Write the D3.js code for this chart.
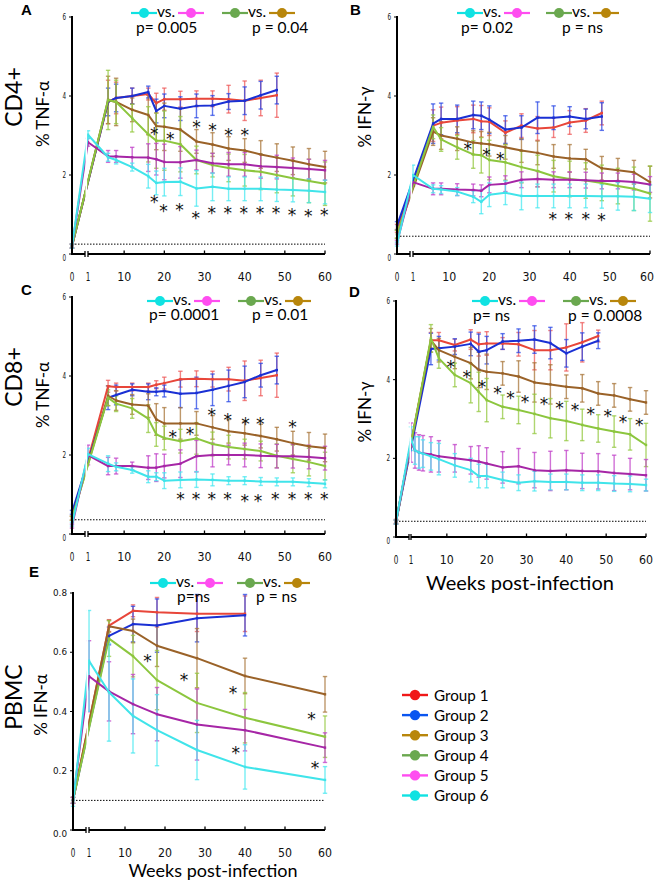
<!DOCTYPE html>
<html><head><meta charset="utf-8">
<script src="https://cdnjs.cloudflare.com/ajax/libs/d3/7.8.5/d3.min.js"></script>
<style>body{margin:0;background:#fff}svg{display:block}</style>
</head><body>
<svg id="c" width="655" height="885"></svg>
<script>
// ---------- DATA ----------
const groupNames = ["Group 1","Group 2","Group 3","Group 4","Group 5","Group 6"];
const xTickVals = [0,1,10,20,30,40,50,60];
const yTicks6 = [0,2,4,6];
const yTicksE = [0,0.2,0.4,0.6,0.8];

// time points (weeks)
const wk12 = [0,6,8,12,16,18,20,24,28,32,36,40,44,48];
const wk34 = [0,6,8,12,16,18,20,24,28,32,36,40,44,48,52,56,60];
const wk56 = [0,1,6,8,12,16,18,20,24,28,32,36,40,44,48,52,56,60];
const wkD56 = [0,1,2,3,4,6,8,12,16,18,20,24,28,32,36,40,44,48,52,56,60];
const wkE12 = [0,6,12,18,28,40];
const wkE34 = [0,6,12,18,28,40,60];
const wkE56 = [0,1,6,12,18,28,40,60];

// Panel A: CD4+ % TNF-a
const A_g1 = [0.2,3.85,3.95,4.0,4.05,3.82,3.92,3.92,3.93,3.93,3.92,3.88,3.95,4.02];
const A_g1e = [0.05,0.55,0.4,0.2,0.15,0.25,0.28,0.2,0.2,0.2,0.35,0.5,0.45,0.56];
const A_g2 = [0.2,3.85,3.95,4.0,4.1,3.62,3.75,3.68,3.75,3.76,3.86,3.88,4.02,4.15];
const A_g2e = [0.05,0.35,0.35,0.2,0.15,0.3,0.3,0.3,0.3,0.25,0.2,0.35,0.35,0.35];
const A_g3 = [0.2,3.9,3.85,3.65,3.52,3.24,3.22,3.15,2.85,2.77,2.67,2.62,2.52,2.44,2.36,2.27,2.2];
const A_g3e = [0.05,0.6,0.6,0.3,0.5,0.6,0.6,0.55,0.3,0.3,0.3,0.3,0.35,0.35,0.35,0.4,0.4];
const A_g4 = [0.2,3.9,3.85,3.44,3.03,2.87,2.87,2.78,2.38,2.25,2.18,2.12,2.08,2.0,1.92,1.85,1.78];
const A_g4e = [0.05,0.75,0.55,0.35,0.7,0.7,0.75,0.7,0.35,0.3,0.35,0.4,0.45,0.45,0.45,0.55,0.55];
const A_g5 = [0.2,2.83,2.47,2.47,2.45,2.44,2.4,2.33,2.32,2.38,2.3,2.27,2.27,2.22,2.2,2.18,2.15,2.12];
const A_g5e = [0.05,0.1,0.15,0.15,0.25,0.35,0.4,0.45,0.4,0.25,0.25,0.3,0.3,0.3,0.3,0.25,0.25,0.25];
const A_g6 = [0.2,3.02,2.45,2.38,2.2,1.97,1.8,1.82,1.83,1.66,1.7,1.65,1.65,1.65,1.63,1.62,1.6,1.57];
const A_g6e = [0.05,0.1,0.1,0.1,0.1,0.3,0.3,0.35,0.35,0.45,0.35,0.3,0.3,0.3,0.3,0.3,0.3,0.3];
const A_starWk = [17.5,21.5,28,32,36,40, 17.5,19.8,23.8,27.8,31.8,35.8,39.8,43.8,47.8,51.8,55.8,59.8];
const A_starVal = [3.12,2.98,3.3,3.22,3.1,3.1, 1.38,1.16,1.2,1.0,1.12,1.12,1.12,1.12,1.12,1.07,1.05,1.07];

// Panel B: CD4+ % IFN-g
const B_g1 = [0.65,3.25,3.32,3.38,3.42,3.36,3.35,3.07,3.25,3.18,3.2,3.33,3.38,3.57];
const B_g1e = [0.1,0.4,0.4,0.35,0.35,0.4,0.35,0.3,0.3,0.3,0.25,0.3,0.3,0.3];
const B_g2 = [0.72,3.3,3.42,3.42,3.52,3.5,3.4,3.15,3.2,3.45,3.45,3.48,3.42,3.48];
const B_g2e = [0.1,0.5,0.4,0.35,0.35,0.35,0.35,0.35,0.3,0.4,0.3,0.25,0.25,0.35];
const B_g3 = [0.5,3.1,3.0,2.92,2.82,2.8,2.78,2.7,2.62,2.56,2.47,2.42,2.4,2.17,2.12,2.07,1.82];
const B_g3e = [0.1,0.35,0.35,0.3,0.3,0.3,0.3,0.3,0.3,0.3,0.3,0.35,0.25,0.3,0.3,0.3,0.4];
const B_g4 = [0.5,3.22,2.9,2.7,2.52,2.5,2.38,2.32,2.2,2.1,1.97,1.9,1.86,1.8,1.72,1.65,1.53];
const B_g4e = [0.1,0.3,0.3,0.3,0.35,0.45,0.5,0.45,0.4,0.4,0.4,0.45,0.45,0.45,0.45,0.55,0.7];
const B_g5 = [0.3,1.82,1.65,1.65,1.63,1.62,1.6,1.75,1.78,1.88,1.9,1.88,1.88,1.87,1.85,1.85,1.82,1.76];
const B_g5e = [0.05,0.1,0.15,0.15,0.15,0.15,0.15,0.2,0.2,0.2,0.2,0.2,0.2,0.2,0.2,0.2,0.2,0.2];
const B_g6 = [0.25,2.0,1.65,1.63,1.58,1.45,1.32,1.5,1.55,1.47,1.47,1.47,1.47,1.47,1.46,1.46,1.45,1.4];
const B_g6e = [0.05,0.25,0.1,0.1,0.1,0.15,0.3,0.3,0.3,0.35,0.3,0.3,0.3,0.3,0.3,0.35,0.35,0.35];
const B_starWk = [14.6,19.3,22.7, 35.8,39.8,44,47.9];
const B_starVal = [2.74,2.57,2.49, 0.95,0.95,0.95,0.93];

// Panel C: CD8+ % TNF-a
const C_g1 = [0.4,3.74,3.72,3.72,3.72,3.78,3.82,3.92,3.93,3.92,3.92,3.88,3.95,4.02];
const C_g1e = [0.05,0.15,0.1,0.1,0.1,0.1,0.15,0.2,0.2,0.2,0.3,0.5,0.45,0.56];
const C_g2 = [0.55,3.45,3.52,3.65,3.6,3.6,3.62,3.55,3.57,3.65,3.75,3.85,4.02,4.15];
const C_g2e = [0.05,0.3,0.25,0.15,0.2,0.1,0.15,0.35,0.4,0.4,0.4,0.4,0.3,0.35];
const C_g3 = [0.4,3.5,3.38,3.28,3.25,2.9,2.8,2.8,2.8,2.7,2.6,2.55,2.48,2.4,2.3,2.22,2.18];
const C_g3e = [0.05,0.25,0.25,0.25,0.3,0.4,0.4,0.4,0.3,0.3,0.3,0.3,0.3,0.3,0.3,0.35,0.35];
const C_g4 = [0.4,3.45,3.3,3.18,2.92,2.52,2.43,2.35,2.42,2.28,2.2,2.15,2.1,1.98,1.9,1.82,1.72];
const C_g4e = [0.05,0.2,0.2,0.25,0.35,0.3,0.3,0.3,0.4,0.3,0.3,0.25,0.25,0.3,0.35,0.35,0.35];
const C_g5 = [0.2,2.0,1.72,1.72,1.72,1.68,1.68,1.72,1.78,1.97,2.0,2.0,2.0,1.98,1.97,1.97,1.95,1.92];
const C_g5e = [0.05,0.25,0.22,0.2,0.1,0.3,0.35,0.3,0.35,0.4,0.3,0.25,0.3,0.3,0.3,0.3,0.3,0.3];
const C_g6 = [0.25,2.02,1.78,1.7,1.62,1.45,1.45,1.35,1.37,1.38,1.37,1.35,1.35,1.33,1.32,1.32,1.3,1.27];
const C_g6e = [0.05,0.15,0.2,0.1,0.08,0.15,0.1,0.2,0.2,0.2,0.15,0.1,0.1,0.1,0.1,0.1,0.1,0.1];
const C_starWk = [22.1,26.4,31.8,35.8,40.2,43.9,51.9, 24,27.9,31.8,35.7,40,43.3,47.6,51.8,55.8,59.8];
const C_starVal = [2.54,2.6,3.08,2.95,2.87,2.85,2.78, 0.97,0.97,0.97,0.97,0.91,0.91,0.97,0.97,0.97,0.97];

// Panel D: CD8+ % IFN-g
const D_g1 = [0.4,5.0,5.0,4.88,5.02,4.9,4.92,4.92,4.9,4.75,4.75,4.82,4.95,5.11];
const D_g1e = [0.05,0.2,0.2,0.15,0.25,0.3,0.3,0.15,0.3,0.5,0.5,0.6,0.5,0.15];
const D_g2 = [0.38,4.78,4.8,4.84,4.91,4.71,4.75,4.97,4.99,5.02,4.93,4.67,4.84,4.99];
const D_g2e = [0.05,0.4,0.3,0.2,0.3,0.45,0.35,0.2,0.3,0.35,0.4,0.35,0.35,0.2];
const D_g3 = [0.38,5.0,4.75,4.58,4.42,4.25,4.2,4.16,4.08,3.93,3.88,3.82,3.78,3.65,3.6,3.5,3.42];
const D_g3e = [0.05,0.3,0.3,0.3,0.4,0.45,0.45,0.3,0.4,0.5,0.5,0.3,0.35,0.3,0.3,0.3,0.3];
const D_g4 = [0.38,5.05,4.54,4.12,3.91,3.69,3.48,3.31,3.23,3.13,3.02,2.95,2.85,2.76,2.68,2.61,2.34];
const D_g4e = [0.05,0.35,0.25,0.3,0.5,0.5,0.55,0.3,0.35,0.5,0.5,0.5,0.4,0.35,0.4,0.4,0.55];
const D_g5 = [0.38,2.4,2.2,2.15,2.13,2.1,2.05,2.0,1.95,1.92,1.87,1.77,1.8,1.7,1.68,1.7,1.68,1.67,1.63,1.6,1.57];
const D_g5e = [0.05,0.5,0.45,0.45,0.45,0.45,0.4,0.35,0.35,0.4,0.4,0.4,0.45,0.45,0.5,0.5,0.45,0.45,0.45,0.4,0.4];
const D_g6 = [0.38,2.5,2.2,2.15,2.12,2.05,1.98,1.82,1.7,1.55,1.55,1.45,1.38,1.42,1.4,1.4,1.38,1.38,1.36,1.35,1.32];
const D_g6e = [0.05,0.3,0.35,0.4,0.35,0.35,0.4,0.3,0.3,0.3,0.3,0.2,0.2,0.25,0.2,0.2,0.2,0.2,0.2,0.2,0.15];
const D_starWk = [11,15,18.8,22.7,26,29.6,34.4,38.3,42.2,46.1,50.4,54.2,58.3];
const D_starVal = [4.4,4.14,3.9,3.73,3.6,3.52,3.46,3.35,3.3,3.2,3.16,3.0,2.92];

// Panel E: PBMC % IFN-a
const E_g1 = [0.1,0.69,0.74,0.735,0.73,0.73];
const E_g1e = [0.01,0.02,0.02,0.05,0.06,0.06];
const E_g2 = [0.1,0.655,0.695,0.69,0.715,0.725];
const E_g2e = [0.01,0.03,0.06,0.09,0.08,0.07];
const E_g3 = [0.1,0.688,0.672,0.622,0.58,0.52,0.458];
const E_g3e = [0.01,0.02,0.04,0.07,0.1,0.06,0.06];
const E_g4 = [0.1,0.646,0.587,0.506,0.429,0.379,0.315];
const E_g4e = [0.01,0.06,0.07,0.1,0.1,0.085,0.07];
const E_g5 = [0.1,0.519,0.468,0.425,0.391,0.356,0.337,0.278];
const E_g5e = [0.01,0.12,0.1,0.1,0.09,0.12,0.07,0.05];
const E_g6 = [0.09,0.571,0.465,0.385,0.337,0.27,0.213,0.169];
const E_g6e = [0.01,0.17,0.165,0.125,0.12,0.1,0.075,0.045];
const E_starWk = [15.6,24.75,37,56.6, 37.7,57.5];
const E_starVal = [0.58,0.515,0.474,0.385, 0.27,0.22];

const pLeft = ["p= 0.005","p= 0.02","p= 0.0001","p= ns","p=ns"];
const pRight = ["p = 0.04","p = ns","p = 0.01","p = 0.0008","p = ns"];

// ---------- STYLE ----------
const lineCols = ["#e8463a","#1a30d4","#9a6228","#8cc63e","#a626a6","#40e4ea"];
const barCols  = ["#ee5a5a","#2a48e6","#a8763a","#94c840","#c040c8","#48e8f0"];
const legCols  = ["#f01818","#0a55f0","#b8860b","#6aa84f","#ff4df0","#10e2e2"];
const numFont = "'Liberation Sans Narrow','Arial Narrow','DejaVu Sans Condensed',sans-serif";
const txtFont = "Lato,'Open Sans',sans-serif";

const svg = d3.select("#c");

const panels = [
 {L:"A",row:"CD4+",yl:"% TNF-α",x0:72,x1:88,x60:325,y0:254,yT:17,ymax:6,ticks:yTicks6,base:0.25,
  s:[[wk12,A_g1,A_g1e],[wk12,A_g2,A_g2e],[wk34,A_g3,A_g3e],[wk34,A_g4,A_g4e],[wk56,A_g5,A_g5e],[wk56,A_g6,A_g6e]],
  sw:A_starWk,sv:A_starVal,lx:131,lx2:222,ly:13,pb:33,p1x:136,p2x:252,letter:[21,15],rowL:[13,97],ylL:[43,114],xlab:null},
 {L:"B",row:null,yl:"% IFN-γ",x0:397,x1:413,x60:650,y0:254,yT:17,ymax:6,ticks:yTicks6,base:0.45,
  s:[[wk12,B_g1,B_g1e],[wk12,B_g2,B_g2e],[wk34,B_g3,B_g3e],[wk34,B_g4,B_g4e],[wk56,B_g5,B_g5e],[wk56,B_g6,B_g6e]],
  sw:B_starWk,sv:B_starVal,lx:457,lx2:546,ly:13,pb:33,p1x:461,p2x:562,letter:[350,15],rowL:null,ylL:[365,117],xlab:null},
 {L:"C",row:"CD8+",yl:"% TNF-α",x0:72,x1:88,x60:325,y0:534,yT:297,ymax:6,ticks:yTicks6,base:0.36,
  s:[[wk12,C_g1,C_g1e],[wk12,C_g2,C_g2e],[wk34,C_g3,C_g3e],[wk34,C_g4,C_g4e],[wk56,C_g5,C_g5e],[wk56,C_g6,C_g6e]],
  sw:C_starWk,sv:C_starVal,lx:147,lx2:238,ly:301,pb:320,p1x:149,p2x:252,letter:[21,295],rowL:[13,377],ylL:[43,395],xlab:null},
 {L:"D",row:null,yl:"% IFN-γ",x0:396,x1:411,x60:646,y0:537,yT:301,ymax:6,ticks:yTicks6,base:0.4,
  s:[[wk12,D_g1,D_g1e],[wk12,D_g2,D_g2e],[wk34,D_g3,D_g3e],[wk34,D_g4,D_g4e],[wkD56,D_g5,D_g5e],[wkD56,D_g6,D_g6e]],
  sw:D_starWk,sv:D_starVal,lx:472,lx2:563,ly:301,pb:321,p1x:473,p2x:568,letter:[349,297],rowL:null,ylL:[365,412],xlab:[520,590,20]},
 {L:"E",row:"PBMC",yl:"% IFN-α",x0:73,x1:89,x60:325,y0:830,yT:593,ymax:0.8,ticks:yTicksE,base:0.1,
  s:[[wkE12,E_g1,E_g1e],[wkE12,E_g2,E_g2e],[wkE34,E_g3,E_g3e],[wkE34,E_g4,E_g4e],[wkE56,E_g5,E_g5e],[wkE56,E_g6,E_g6e]],
  sw:E_starWk,sv:E_starVal,lx:150,lx2:237,ly:583,pb:602,p1x:177,p2x:256,letter:[29,577],rowL:[13,697],ylL:[41,705],xlab:[213,877,18]}
];

panels.forEach((p,pi)=>{
  const x = d3.scaleLinear().domain([0,1,60]).range([p.x0,p.x1,p.x60]);
  const y = d3.scaleLinear().domain([0,p.ymax]).range([p.y0,p.yT]);
  const g = svg.append("g");

  // dotted baseline
  g.append("line").attr("x1",x(0)).attr("x2",x(60)).attr("y1",y(p.base)).attr("y2",y(p.base))
    .attr("stroke","#000").attr("stroke-width",1).attr("stroke-dasharray","1.5,1.5");

  // error bars
  p.s.forEach((s,i)=>{
    const [wk,v,e]=s;
    const eb = g.append("g").attr("stroke",barCols[i]).attr("stroke-width",1.4).attr("stroke-opacity",0.75).attr("fill","none");
    wk.forEach((w,j)=>{
      const cx=x(w), t=y(v[j]+e[j]), b=y(Math.max(0,v[j]-e[j]));
      eb.append("line").attr("x1",cx).attr("x2",cx).attr("y1",t).attr("y2",b);
      eb.append("line").attr("x1",cx-2.2).attr("x2",cx+2.2).attr("y1",t).attr("y2",t);
      eb.append("line").attr("x1",cx-2.2).attr("x2",cx+2.2).attr("y1",b).attr("y2",b);
    });
  });
  // lines
  p.s.forEach((s,i)=>{
    const [wk,v]=s;
    const pts = wk.map((w,j)=>[w,v[j]]);
    g.append("path").attr("d",d3.line().x(d=>x(d[0])).y(d=>y(d[1]))(pts))
      .attr("fill","none").attr("stroke",lineCols[i]).attr("stroke-width",2).attr("stroke-linejoin","round");
    g.selectAll(null).data(pts).enter().append("rect")
      .attr("x",d=>x(d[0])-1.2).attr("y",d=>y(d[1])-1.2).attr("width",2.4).attr("height",2.4).attr("fill",lineCols[i]);
  });
  // break gap
  g.append("rect").attr("x",p.x0+13.5).attr("y",p.yT).attr("width",1.6).attr("height",p.y0-p.yT-4).attr("fill","#fff");

  // y axis
  const ax = g.append("g").attr("stroke","#000");
  ax.append("line").attr("x1",p.x0).attr("x2",p.x0).attr("y1",y(p.ymax)-1).attr("y2",p.y0+1).attr("stroke-width",2);
  p.ticks.forEach(t=>{
    ax.append("line").attr("x1",p.x0-3).attr("x2",p.x0).attr("y1",y(t)).attr("y2",y(t)).attr("stroke-width",1);
  });
  // x axis broken
  ax.append("line").attr("x1",p.x0).attr("x2",p.x0+13).attr("y1",p.y0).attr("y2",p.y0).attr("stroke-width",2);
  ax.append("line").attr("x1",p.x0+13).attr("x2",p.x0+13).attr("y1",p.y0-3).attr("y2",p.y0+3).attr("stroke-width",1.3);
  ax.append("line").attr("x1",x(1)).attr("x2",x(60)).attr("y1",p.y0).attr("y2",p.y0).attr("stroke-width",2);
  ax.append("line").attr("x1",x(1)).attr("x2",x(1)).attr("y1",p.y0-3).attr("y2",p.y0+3).attr("stroke-width",1.3);
  xTickVals.filter(t=>t>=10).forEach(t=>{
    ax.append("line").attr("x1",x(t)).attr("x2",x(t)).attr("y1",p.y0-3.5).attr("y2",p.y0).attr("stroke-width",1.3);
  });
  // tick labels
  xTickVals.forEach(t=>{
    const s=String(t);
    const w = s.length>1?14:4.6;
    const cx = Math.min(x(t), 654 - w/2);
    g.append("text").attr("x",cx).attr("y",p.y0+27).attr("text-anchor","middle")
      .attr("font-family",numFont).attr("font-size",12.5).attr("fill","#111")
      .attr("textLength",w).attr("lengthAdjust","spacingAndGlyphs").text(s);
  });
  p.ticks.forEach(t=>{
    const s = p.ymax<1 ? t.toFixed(1) : String(t);
    g.append("text").attr("x",p.x0-6).attr("y",y(t)+(t===0?7:3)).attr("text-anchor","end")
      .attr("font-family",numFont).attr("font-size",9).attr("fill","#111")
      .attr("textLength",s.length>1?14:3.6).attr("lengthAdjust","spacingAndGlyphs").text(s);
  });

  // stars
  p.sw.forEach((w,j)=>{
    g.append("text").attr("x",x(w)).attr("y",y(p.sv[j])+9).attr("text-anchor","middle")
      .attr("font-family","'DejaVu Sans',sans-serif").attr("font-size",17).attr("fill","#111").text("*");
  });

  // inner legend
  const sw = (xs,col)=>{
    g.append("line").attr("x1",xs).attr("x2",xs+26).attr("y1",p.ly).attr("y2",p.ly).attr("stroke",col).attr("stroke-width",2.2);
    g.append("circle").attr("cx",xs+13).attr("cy",p.ly).attr("r",5).attr("fill",col);
  };
  [[p.lx,5,4],[p.lx2,3,2]].forEach(([xs,a,b])=>{
    sw(xs,legCols[a]);
    g.append("text").attr("x",xs+26).attr("y",p.ly+3.5).attr("font-family",txtFont).attr("font-size",15.5).attr("fill","#000").text("vs.");
    sw(xs+47,legCols[b]);
  });
  g.append("text").attr("x",p.p1x).attr("y",p.pb).attr("font-family",txtFont).attr("font-size",15.5).attr("fill","#000").text(pLeft[pi]);
  g.append("text").attr("x",p.p2x).attr("y",p.pb).attr("font-family",txtFont).attr("font-size",15.5).attr("fill","#000").text(pRight[pi]);

  // labels
  g.append("text").attr("x",p.letter[0]).attr("y",p.letter[1]).attr("font-family","'Liberation Sans',Arial,sans-serif")
    .attr("font-weight","bold").attr("font-size",15).text(p.L);
  if(p.rowL) g.append("text").attr("transform",`translate(${p.rowL[0]+9},${p.rowL[1]}) rotate(-90)`).attr("text-anchor","middle")
    .attr("font-family",txtFont).attr("font-size",23).text(p.row);
  g.append("text").attr("transform",`translate(${p.ylL[0]+6},${p.ylL[1]}) rotate(-90)`).attr("text-anchor","middle")
    .attr("font-family",txtFont).attr("font-size",17).text(p.yl);
  if(p.xlab) g.append("text").attr("x",p.xlab[0]).attr("y",p.xlab[1]).attr("text-anchor","middle")
    .attr("font-family",txtFont).attr("font-size",p.xlab[2]).text("Weeks post-infection");
});

// group legend
const lg = svg.append("g");
groupNames.forEach((n,i)=>{
  const yy = 695 + i*20.1;
  lg.append("line").attr("x1",402).attr("x2",428).attr("y1",yy).attr("y2",yy).attr("stroke",legCols[i]).attr("stroke-width",2.4);
  lg.append("circle").attr("cx",415).attr("cy",yy).attr("r",5.2).attr("fill",legCols[i]);
  lg.append("text").attr("x",434).attr("y",yy+5.5).attr("font-family",txtFont).attr("font-size",15.2).text(n);
});
</script>
</body></html>
